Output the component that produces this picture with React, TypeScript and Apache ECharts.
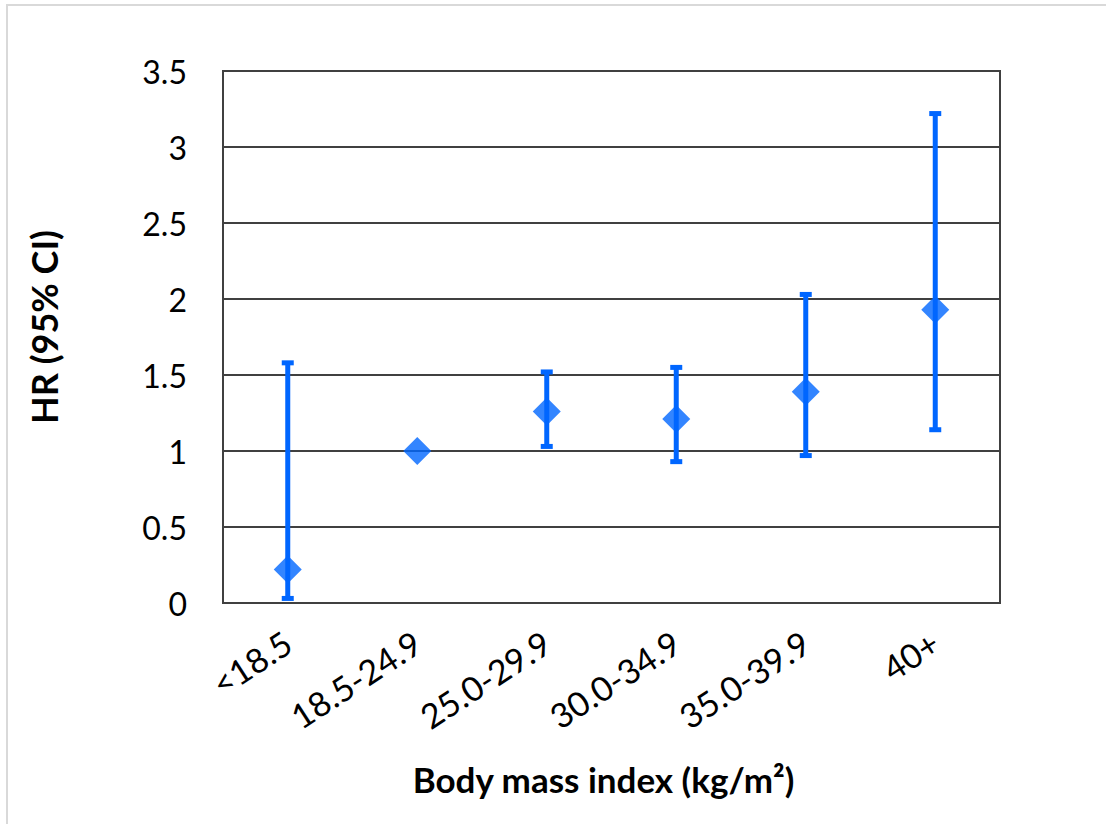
import React, { useEffect, useRef } from "react";
import * as echarts from "echarts";

const categories = ["<18.5", "18.5-24.9", "25.0-29.9", "30.0-34.9", "35.0-39.9", "40+"];
const hrValues = [0.22, 1.0, 1.26, 1.21, 1.39, 1.93];
const lowerCI: (number | null)[] = [0.03, null, 1.03, 0.93, 0.97, 1.14];
const upperCI: (number | null)[] = [1.58, null, 1.52, 1.55, 2.03, 3.22];
const yTicks = [0, 0.5, 1, 1.5, 2, 2.5, 3, 3.5];

const BLUE = "#0066FF";
const FONT = "Lato, 'Open Sans', sans-serif";

export default function App() {
  const ref = useRef<HTMLDivElement>(null);
  useEffect(() => {
    if (!ref.current) return;
    const chart = echarts.init(ref.current, undefined, { renderer: "svg" });
    const errData = categories
      .map((c, i) => [i, lowerCI[i], upperCI[i]])
      .filter((d) => d[1] != null && d[2] != null);
    chart.setOption({
      animation: false,
      backgroundColor: "#ffffff",
      textStyle: { fontFamily: FONT },
      graphic: [
        {
          type: "rect",
          shape: { x: 7, y: 5, width: 1300, height: 1000 },
          style: { fill: "none", stroke: "#d9d9d9", lineWidth: 2 },
          silent: true,
        },
      ],
      grid: {
        left: 223,
        top: 71,
        width: 777,
        height: 532,
        show: true,
        borderColor: "#404040",
        borderWidth: 2,
        backgroundColor: "transparent",
      },
      xAxis: {
        type: "category",
        data: categories,
        boundaryGap: true,
        axisLine: { show: true, lineStyle: { color: "#404040", width: 2 } },
        axisTick: { show: false },
        axisLabel: {
          rotate: 33,
          margin: 36,
          fontSize: 34,
          color: "#000",
          fontFamily: FONT,
          interval: 0,
        },
        name: "Body mass index (kg/m²)",
        nameLocation: "middle",
        nameGap: 158,
        nameTextStyle: {
          fontSize: 35,
          fontWeight: "bold",
          color: "#000",
          fontFamily: FONT,
          padding: [0, 16, 0, 0],
        },
      },
      yAxis: {
        type: "value",
        min: 0,
        max: 3.5,
        interval: 0.5,
        axisLine: { show: true, lineStyle: { color: "#404040", width: 2 } },
        axisTick: { show: false },
        splitLine: { show: true, lineStyle: { color: "#404040", width: 2 } },
        axisLabel: {
          fontSize: 32,
          color: "#000",
          margin: 36,
          fontFamily: FONT,
          formatter: (v: number) => (yTicks.includes(v) ? String(v) : ""),
        },
        name: "HR (95% CI)",
        nameLocation: "middle",
        nameGap: 161,
        nameRotate: 90,
        nameTextStyle: {
          fontSize: 36,
          fontWeight: "bold",
          color: "#000",
          fontFamily: FONT,
          padding: [0, 0, 0, 20],
        },
      },
      series: [
        {
          type: "custom",
          data: errData,
          z: 2,
          renderItem: (params: any, api: any) => {
            const x = api.value(0);
            const lo = api.coord([x, api.value(1)]);
            const hi = api.coord([x, api.value(2)]);
            const cap = 6;
            const style = { stroke: BLUE, lineWidth: 5 };
            return {
              type: "group",
              children: [
                { type: "line", shape: { x1: lo[0], y1: lo[1], x2: hi[0], y2: hi[1] }, style },
                { type: "line", shape: { x1: lo[0] - cap, y1: lo[1], x2: lo[0] + cap, y2: lo[1] }, style },
                { type: "line", shape: { x1: hi[0] - cap, y1: hi[1], x2: hi[0] + cap, y2: hi[1] }, style },
              ],
            };
          },
        },
        {
          type: "scatter",
          data: hrValues.map((v, i) => [i, v]),
          symbol: "diamond",
          symbolSize: 28,
          z: 3,
          itemStyle: { color: BLUE },
        },
      ],
    });
    return () => chart.dispose();
  }, []);
  return (
    <div
      ref={ref}
      style={{ position: "absolute", left: 0, top: 0, width: 1106, height: 824 }}
    />
  );
}
